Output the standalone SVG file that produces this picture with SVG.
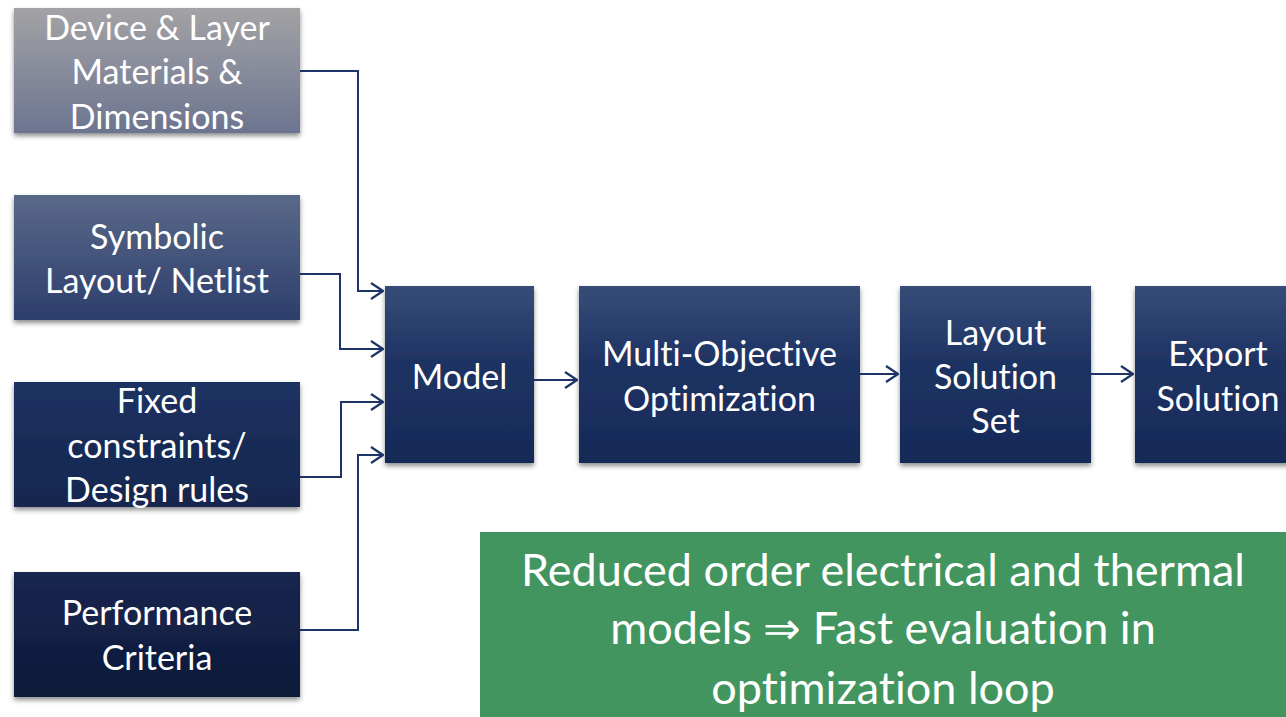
<svg xmlns="http://www.w3.org/2000/svg" width="1286" height="717" viewBox="0 0 1286 717">
  <defs>
    <linearGradient id="gGray" x1="0" y1="0" x2="0" y2="1">
      <stop offset="0" stop-color="#a3a3a5"/>
      <stop offset="1" stop-color="#6c7490"/>
    </linearGradient>
    <linearGradient id="gSlate" x1="0" y1="0" x2="0" y2="1">
      <stop offset="0" stop-color="#5a6989"/>
      <stop offset="1" stop-color="#2c3e6c"/>
    </linearGradient>
    <linearGradient id="gNavy" x1="0" y1="0" x2="0" y2="1">
      <stop offset="0" stop-color="#1d3161"/>
      <stop offset="1" stop-color="#15274f"/>
    </linearGradient>
    <linearGradient id="gDark" x1="0" y1="0" x2="0" y2="1">
      <stop offset="0" stop-color="#162650"/>
      <stop offset="1" stop-color="#0e1a38"/>
    </linearGradient>
    <linearGradient id="gStep" x1="0" y1="0" x2="0" y2="1">
      <stop offset="0" stop-color="#374c78"/>
      <stop offset="0.45" stop-color="#1d3262"/>
      <stop offset="1" stop-color="#172a58"/>
    </linearGradient>
    <filter id="shadow" x="-10%" y="-10%" width="120%" height="130%">
      <feDropShadow dx="0" dy="3" stdDeviation="2.5" flood-color="#000" flood-opacity="0.45"/>
    </filter>
    <marker id="arrow" viewBox="0 0 14 18" refX="13" refY="9" markerWidth="14" markerHeight="18" markerUnits="userSpaceOnUse" orient="auto">
      <path d="M1,1 L13,9 L1,17" fill="none" stroke="#1f3466" stroke-width="2.2"/>
    </marker>
  </defs>
  <style>
    .box { filter: url(#shadow); }
    .lbl { font-family: Lato, "Open Sans", "Liberation Sans", sans-serif; font-size: 34px; fill: #ffffff; text-anchor: middle; font-variant-ligatures: none; }
    .note { font-family: Lato, "Open Sans", "Liberation Sans", sans-serif; font-size: 45px; fill: #ffffff; text-anchor: middle; font-variant-ligatures: none; }
    .wire { fill: none; stroke: #1f3466; stroke-width: 2; marker-end: url(#arrow); }
  </style>

  <rect width="1286" height="717" fill="#ffffff"/>

  <!-- input nodes -->
  <g id="materials">
    <rect class="box" x="14" y="8" width="286" height="125" fill="url(#gGray)"/>
    <text class="lbl" x="157" y="40">Device &amp; Layer</text>
    <text class="lbl" x="157" y="84">Materials &amp;</text>
    <text class="lbl" x="157" y="129">Dimensions</text>
  </g>
  <g id="symbolic">
    <rect class="box" x="14" y="195" width="286" height="125" fill="url(#gSlate)"/>
    <text class="lbl" x="157" y="249">Symbolic</text>
    <text class="lbl" x="157" y="293">Layout/ Netlist</text>
  </g>
  <g id="constraints">
    <rect class="box" x="14" y="382" width="286" height="125" fill="url(#gNavy)"/>
    <text class="lbl" x="157" y="413">Fixed</text>
    <text class="lbl" x="157" y="458">constraints/</text>
    <text class="lbl" x="157" y="502">Design rules</text>
  </g>
  <g id="performance">
    <rect class="box" x="14" y="572" width="286" height="125" fill="url(#gDark)"/>
    <text class="lbl" x="157" y="625">Performance</text>
    <text class="lbl" x="157" y="670">Criteria</text>
  </g>

  <!-- processing chain -->
  <g id="model">
    <rect class="box" x="385" y="286" width="149" height="177" fill="url(#gStep)"/>
    <text class="lbl" x="459.5" y="389">Model</text>
  </g>
  <g id="optimization">
    <rect class="box" x="579" y="286" width="281" height="177" fill="url(#gStep)"/>
    <text class="lbl" x="719.5" y="366">Multi-Objective</text>
    <text class="lbl" x="719.5" y="411">Optimization</text>
  </g>
  <g id="solutionset">
    <rect class="box" x="900" y="286" width="191" height="177" fill="url(#gStep)"/>
    <text class="lbl" x="995.5" y="345">Layout</text>
    <text class="lbl" x="995.5" y="389">Solution</text>
    <text class="lbl" x="995.5" y="433">Set</text>
  </g>
  <g id="export">
    <rect class="box" x="1135" y="286" width="160" height="177" fill="url(#gStep)"/>
    <text class="lbl" x="1218" y="366">Export</text>
    <text class="lbl" x="1218" y="411">Solution</text>
  </g>

  <!-- note -->
  <g id="note">
    <rect x="480" y="532" width="806" height="185" fill="#43955f"/>
    <text class="note" x="883" y="586">Reduced order electrical and thermal</text>
    <text class="note" x="883" y="644">models ⇒ Fast evaluation in</text>
    <text class="note" x="883" y="704">optimization loop</text>
  </g>

  <!-- connectors -->
  <g id="connectors">
    <path class="wire" d="M300,71 H358 V291 H383"/>
    <path class="wire" d="M300,274 H340 V349 H383"/>
    <path class="wire" d="M300,477 H341 V402 H383"/>
    <path class="wire" d="M300,630 H358 V455 H383"/>
    <path class="wire" d="M534,380 H577"/>
    <path class="wire" d="M860,374 H898"/>
    <path class="wire" d="M1091,374 H1133"/>
  </g>
</svg>
